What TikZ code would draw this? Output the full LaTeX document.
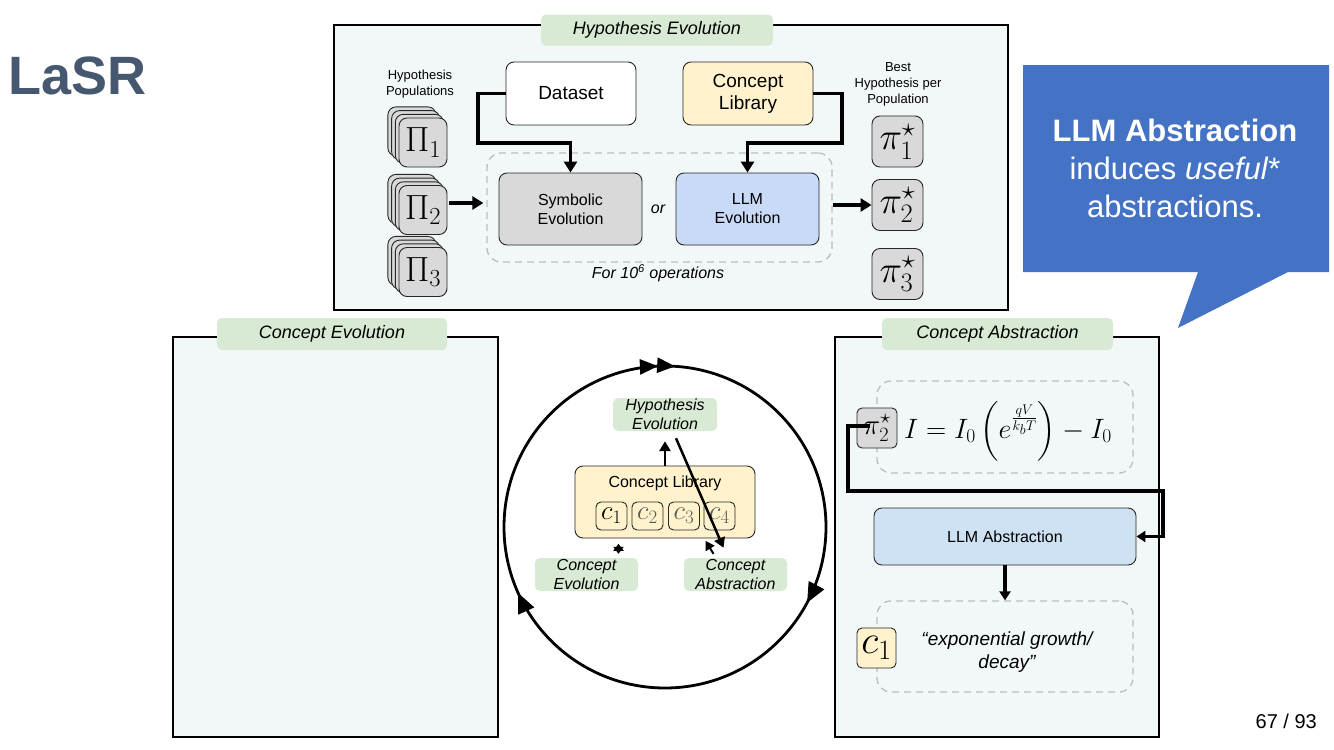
\RequirePackage{fix-cm}
\documentclass[tikz,border=0pt]{standalone}
\usepackage{amsmath}
\usepackage{fontspec}
\setmainfont{Liberation Sans}
\usetikzlibrary{arrows.meta,decorations.markings}
\definecolor{panelbg}{HTML}{F2F7F7}
\definecolor{tabgreen}{HTML}{D8EAD3}
\definecolor{graybox}{HTML}{D9D9D9}
\definecolor{llmblue}{HTML}{C9DAF8}
\definecolor{absblue}{HTML}{CFE2F3}
\definecolor{libyellow}{HTML}{FFF2CC}
\definecolor{bubblecol}{HTML}{4472C4}
\definecolor{lasrcol}{HTML}{465870}
\definecolor{dashgray}{HTML}{BDBDBD}
\newcommand{\myfs}[2]{\fontsize{#1}{#2}\selectfont}
\tikzset{
  panel/.style={draw=black, line width=1.2pt, fill=panelbg, inner sep=0pt},
  tabbox/.style={fill=tabgreen, rounded corners=5pt, inner sep=0pt, align=center},
  rbox/.style={draw=black!85, line width=0.9pt, rounded corners=8pt, inner sep=0pt, align=center},
  sbox/.style={draw=black!85, line width=0.9pt, rounded corners=5pt, inner sep=0pt, align=center},
  dashbox/.style={draw=dashgray, line width=1.3pt, dash pattern=on 7pt off 5pt, rounded corners=14pt, inner sep=0pt},
  harrow/.style={line width=3.5pt, -{Triangle[length=11pt,width=13pt]}},
  carrow/.style={line width=2.5pt, -{Triangle[length=10pt,width=11pt]}},
  plain/.style={inner sep=0pt, align=center},
}
\begin{document}
\begin{tikzpicture}[x=1pt,y=-1pt]
\useasboundingbox (0,0) rectangle (1334,750);
\fill[white] (0,0) rectangle (1334,750);

% title and page number
\node[plain, anchor=base west, text=lasrcol, font=\myfs{54}{60}\bfseries] (title) at (8,94) {LaSR};
\node[plain, anchor=base east, font=\myfs{20}{24}] (pagenum) at (1317,728) {67 / 93};

% ===== top panel: Hypothesis Evolution =====
\node[panel, minimum width=674pt, minimum height=285pt] (hpanel) at (671,167.5) {};
\node[tabbox, minimum width=232pt, minimum height=31pt, font=\myfs{18}{22}\itshape] (htab) at (657,30) {Hypothesis Evolution};

\node[plain, font=\myfs{13}{16}] (poplabel) at (420,84) {Hypothesis\\Populations};
\node[plain, font=\myfs{13}{16}] (bestlabel) at (898,84) {Best\\Hypothesis per\\Population};

% stacks
\foreach \k in {3,2,1} {
  \node[rbox, fill=graybox, minimum width=48pt, minimum height=49pt] at (423-\k*3.7,142.5-\k*3.7) {};
  \node[rbox, fill=graybox, minimum width=48pt, minimum height=49pt] at (423-\k*3.7,210-\k*3.7) {};
  \node[rbox, fill=graybox, minimum width=48pt, minimum height=49pt] at (423-\k*3.7,272-\k*3.7) {};
}
\node[rbox, fill=graybox, minimum width=48pt, minimum height=49pt, font=\myfs{35}{35}] (P1) at (423,142.5) {$\Pi_1$};
\node[rbox, fill=graybox, minimum width=48pt, minimum height=49pt, font=\myfs{35}{35}] (P2) at (423,210) {$\Pi_2$};
\node[rbox, fill=graybox, minimum width=48pt, minimum height=49pt, font=\myfs{35}{35}] (P3) at (423,272) {$\Pi_3$};

% dashed loop
\node[dashbox, minimum width=345pt, minimum height=109pt] (loop) at (659.5,207.5) {};
\node[plain, font=\myfs{16}{19}\itshape] (forops) at (658,273) {For 10\textsuperscript{6} operations};

\node[rbox, fill=white, minimum width=130pt, minimum height=63pt, font=\myfs{19}{22}] (ds) at (571,93.5) {Dataset};
\node[rbox, fill=libyellow, minimum width=130pt, minimum height=63pt, font=\myfs{19}{22}] (cl) at (748,93.5) {Concept\\Library};

\node[rbox, fill=graybox, minimum width=143pt, minimum height=72pt, font=\myfs{16}{19}] (sym) at (570.5,209) {Symbolic\\Evolution};
\node[rbox, fill=llmblue, minimum width=143pt, minimum height=72pt, font=\myfs{16}{19}] (llm) at (747.5,209) {LLM\\Evolution};
\node[plain, font=\myfs{16}{19}\itshape] (ortext) at (658,209) {or};

% best hypotheses
\node[rbox, fill=graybox, minimum width=51pt, minimum height=51pt, font=\myfs{38}{38}] (b1) at (897.5,141.5) {$\pi_1^\star$};
\node[rbox, fill=graybox, minimum width=51pt, minimum height=51pt, font=\myfs{38}{38}] (b2) at (897.5,205) {$\pi_2^\star$};
\node[rbox, fill=graybox, minimum width=51pt, minimum height=51pt, font=\myfs{38}{38}] (b3) at (897.5,274) {$\pi_3^\star$};

% arrows
\coordinate (dsbend) at (478,143);
\coordinate (clbend) at (842,143);
\coordinate (p2out) at ([xshift=2pt,yshift=7pt]P2.east);
\draw[harrow] (ds.west) -| (dsbend) -| (sym.north);
\draw[harrow] (cl.east) -| (clbend) -| (llm.north);
\draw[harrow] (p2out) -- ([xshift=-3pt]loop.west |- p2out);
\draw[harrow] (loop.east |- b2.west) -- (b2.west);

% ===== left panel: Concept Evolution =====
\node[panel, minimum width=325pt, minimum height=400pt] (lpanel) at (335.5,537) {};
\node[tabbox, minimum width=230pt, minimum height=32pt, font=\myfs{18}{22}\itshape] (ltab) at (332,334) {Concept Evolution};

% ===== right panel: Concept Abstraction =====
\node[panel, minimum width=324pt, minimum height=400pt] (rpanel) at (997,537) {};
\node[tabbox, minimum width=231pt, minimum height=32pt, font=\myfs{18}{22}\itshape] (rtab) at (997.5,334) {Concept Abstraction};

\node[dashbox, minimum width=256pt, minimum height=92pt] (dash1) at (1005,427) {};
\node[plain, font=\myfs{28}{30}] (eq) at (1008,431) {$I = I_0\left(e^{\frac{qV}{k_bT}}\right) - I_0$};
\node[sbox, fill=graybox, minimum width=40pt, minimum height=40pt, font=\myfs{29}{29}] (pib) at (877,428) {$\pi_2^\star$};

\node[rbox, fill=absblue, minimum width=262pt, minimum height=57pt, font=\myfs{16}{19}] (llmabs) at (1005,536.5) {LLM Abstraction};
\node[dashbox, minimum width=256pt, minimum height=91pt] (dash2) at (1005,646.5) {};
\node[sbox, fill=libyellow, minimum width=39pt, minimum height=40pt, font=\myfs{40}{40}] (cone) at (876.5,648) {$c_1$};
\node[plain, font=\myfs{19}{23}\itshape] (expo) at (1007,652) {“exponential growth/\\decay”};

\coordinate (absstart) at (870,426);
\coordinate (abs1) at (848,491);
\coordinate (abs2) at (1163,491);
\draw[line width=3.5pt, -{Triangle[length=9pt,width=11pt]}] (absstart) -| (abs1) -- (abs2) |- (llmabs.east);
\draw[line width=3.5pt, -{Triangle[length=9pt,width=11pt]}] (llmabs.south) -- (dash2.north);

% ===== middle cycle =====
\coordinate (cyc) at (665,527);
\draw[line width=2.8pt, postaction={decorate}, decoration={markings,
  mark=at position 0.078 with {\arrow{Triangle[length=20pt,width=17pt]}},
  mark=at position 0.433 with {\arrow{Triangle[length=20pt,width=17pt]}},
  mark=at position 0.743 with {\arrow{Triangle[length=18pt,width=15pt]}},
  mark=at position 0.760 with {\arrow{Triangle[length=18pt,width=15pt]}}}]
  (cyc) circle (161);

\node[tabbox, minimum width=104pt, minimum height=33pt, font=\myfs{16}{19}\itshape] (hyp) at (665,414.5) {Hypothesis\\Evolution};
\node[rbox, fill=libyellow, minimum width=180pt, minimum height=72pt] (lib) at (665,502) {};
\node[plain, font=\myfs{16}{19}] (libtitle) at (665,483) {Concept Library};
\node[sbox, fill=libyellow, minimum width=31pt, minimum height=28pt, font=\myfs{27}{27}] (c1) at (611.5,516) {$c_1$};
\node[sbox, fill=libyellow, minimum width=31pt, minimum height=28pt, font=\myfs{27}{27}, text=black!65] (c2) at (647.5,516) {$c_2$};
\node[sbox, fill=libyellow, minimum width=31pt, minimum height=28pt, font=\myfs{27}{27}, text=black!65] (c3) at (684,516) {$c_3$};
\node[sbox, fill=libyellow, minimum width=31pt, minimum height=28pt, font=\myfs{27}{27}, text=black!65] (c4) at (719.5,516) {$c_4$};
\node[tabbox, minimum width=103pt, minimum height=33pt, font=\myfs{16}{19}\itshape] (cevo) at (586.5,574.5) {Concept\\Evolution};
\node[tabbox, minimum width=103pt, minimum height=33pt, font=\myfs{16}{19}\itshape] (cabs) at (735.5,574.5) {Concept\\Abstraction};

\draw[carrow] (lib.north -| hyp.south) -- ([yshift=-10pt]hyp.south);
\draw[carrow] ([xshift=11pt,yshift=-7pt]hyp.south) -- ([xshift=-12pt,yshift=10pt]cabs.north);
\draw[line width=2pt, {Triangle[length=7pt,width=10pt]}-{Triangle[length=7pt,width=10pt]}] ([xshift=32pt,yshift=14pt]cevo.north) -- ([xshift=32pt,yshift=4pt]cevo.north);
\draw[line width=2pt, -{Triangle[length=9pt,width=10pt]}] ([xshift=-22pt,yshift=4pt]cabs.north) -- ([xshift=-30pt,yshift=17pt]cabs.north);

% ===== speech bubble =====
\fill[bubblecol] (1023,65) -- (1329,65) -- (1329,272) -- (1288,272) -- (1178,328) -- (1198,272) -- (1023,272) -- cycle;
\node[plain, text=white, font=\myfs{31}{38}] (bubbletext) at (1175,168) {\textbf{LLM Abstraction}\\induces \textit{useful}*\\abstractions.};
\end{tikzpicture}
\end{document}
